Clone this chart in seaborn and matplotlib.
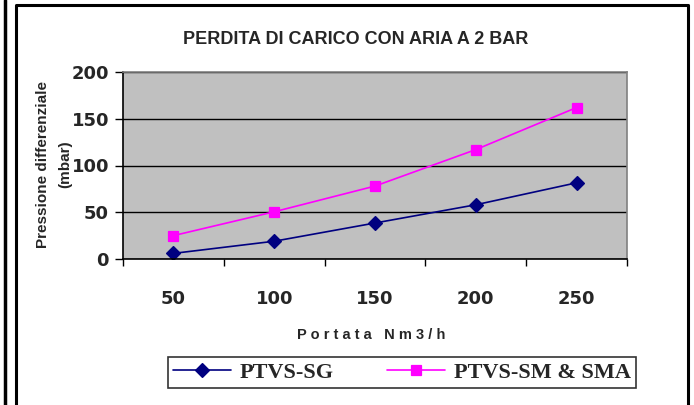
import pandas as pd
import matplotlib.pyplot as plt
import seaborn as sns
from matplotlib.lines import Line2D

portata = [50, 100, 150, 200, 250]
ptvs_sg = [6, 19, 38.5, 58, 81.5]
ptvs_sm = [25, 50.5, 78, 117, 162]
serie = ["PTVS-SG", "PTVS-SM & SMA"]

df = pd.DataFrame({
    "Portata": portata * 2,
    "Pressione": ptvs_sg + ptvs_sm,
    "Serie": [serie[0]] * len(portata) + [serie[1]] * len(portata),
})

sns.set_style("white")
narrow = ["Liberation Sans Narrow", "Liberation Sans", "DejaVu Sans"]

fig = plt.figure(figsize=(6.94, 4.05), dpi=100)
ax = fig.add_axes([123 / 694, 146 / 405, 504 / 694, 187 / 405])
ax.set_facecolor("#C0C0C0")

sns.pointplot(data=df, x="Portata", y="Pressione", hue="Serie",
              palette={serie[0]: "#000080", serie[1]: "#FF00FF"},
              markers=["D", "s"], linestyles=["-", "-"], errorbar=None,
              markersize=7, linewidth=1.2, ax=ax)

ax.set_xlim(-0.5, len(portata) - 0.5)
ax.set_ylim(0, 200)
ax.set_yticks([0, 50, 100, 150, 200])
ax.yaxis.grid(True, color="black", linewidth=1.0)
ax.set_axisbelow(True)
ax.set_xticks(range(len(portata)))
ax.set_xticklabels([str(p) for p in portata])
ax.set_xticks([i - 0.5 for i in range(len(portata) + 1)], minor=True)
ax.tick_params(axis="x", which="major", length=0, pad=22)
ax.tick_params(axis="x", which="minor", length=5, width=1, color="black", direction="out", bottom=True)
ax.tick_params(axis="y", length=6, width=1, color="black", direction="out", left=True, pad=4)
for lab in ax.get_xticklabels() + ax.get_yticklabels():
    lab.set_fontweight("bold")
    lab.set_fontsize(13)
    lab.set_family("DejaVu Sans")

for s in ["left", "bottom"]:
    ax.spines[s].set_color("black")
    ax.spines[s].set_linewidth(1.2)
for s in ["top", "right"]:
    ax.spines[s].set_color("#808080")
    ax.spines[s].set_linewidth(1.2)

ax.set_xlabel("")
ax.set_ylabel("")
handles, labels = ax.get_legend_handles_labels()
ax.get_legend().remove()

fig.text(356 / 694, 1 - 40 / 405, "PERDITA DI CARICO CON ARIA A 2 BAR",
         ha="center", va="center", fontsize=13, fontweight="bold", family=narrow)
fig.text(371 / 694, 1 - 335 / 405, "P o r t a t a   N m 3 / h",
         ha="center", va="center", fontsize=10.5, fontweight="bold", family="Liberation Sans")
fig.text(54 / 694, 1 - 164 / 405, "Pressione differenziale\n(mbar)",
         ha="center", va="center", rotation=90, fontsize=11, fontweight="bold",
         family=narrow, linespacing=1.8)

leg = fig.legend(handles, labels, loc="center", bbox_to_anchor=(402 / 694, 1 - 372.5 / 405),
                 ncol=2, frameon=True, fancybox=False, handlelength=2.6, columnspacing=2.4,
                 handletextpad=0.4, borderpad=0.25,
                 prop={"family": "Liberation Serif", "weight": "bold", "size": 16})
leg.get_frame().set_edgecolor("black")
leg.get_frame().set_linewidth(1.2)

# outer frame of the original sheet
fig.add_artist(Line2D([5 / 694, 5 / 694], [0, 1], color="black", linewidth=2.5))
fig.add_artist(Line2D([15.5 / 694, 15.5 / 694, 687.5 / 694, 687.5 / 694],
                      [0, 1 - 5 / 405, 1 - 5 / 405, 0], color="black", linewidth=2.2))

fig.savefig("out.png", dpi=100)
